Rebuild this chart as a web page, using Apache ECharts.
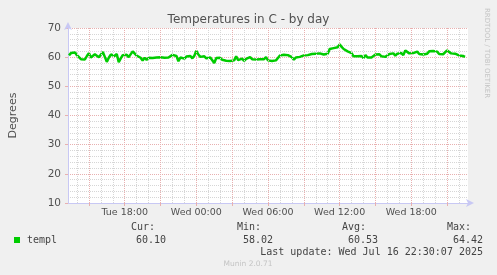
<!DOCTYPE html>
<html>
<head>
<meta charset="utf-8">
<script src="https://cdn.jsdelivr.net/npm/echarts@6/dist/echarts.min.js"></script>
<style>
html,body{margin:0;padding:0;background:#f0f0f0;}
#chart{width:497px;height:275px;}
</style>
</head>
<body>
<div id="chart"></div>
<script>
// ---- data ----
const titleText = 'Temperatures in C - by day';
const yAxisName = 'Degrees';
const seriesName = 'templ';
const startHour = 13 + 20 / 60;      // Tue 13:20 (hours since Tue 00:00)
const stepMinutes = 10;
const temps = [
  60.6, 61.4, 61.0, 61.6, 60.7, 61.0, 59.3,
  59.9, 59.2, 60.4, 61.4, 59.9, 59.5, 61.0,
  61.2, 60.0, 60.4, 61.8, 60.1, 58.4, 59.8,
  60.9, 61.3, 60.4, 61.1, 58.3, 59.6, 60.7,
  60.1, 60.8, 60.0, 60.6, 62.0, 62.6, 60.5,
  60.9, 59.8, 58.8, 59.8, 59.1, 59.8, 59.2,
  59.7, 59.1, 59.9, 59.3, 60.0, 59.6, 59.8,
  59.5, 59.9, 59.6, 60.8, 60.6, 60.4, 58.6,
  59.9, 60.3, 59.5, 60.2, 59.7, 60.4, 59.6,
  60.5, 62.2, 60.9, 60.1, 59.6, 60.3, 59.6,
  59.4, 59.9, 59.3, 58.0, 59.7, 59.2, 59.8,
  59.1, 59.7, 58.8, 59.4, 58.7, 59.3, 58.9,
  60.3, 59.0, 59.1, 59.5, 58.7, 59.4, 58.9,
  60.0, 59.3, 59.9, 59.2, 59.7, 59.3, 59.9,
  59.3, 60.0, 58.9, 59.4, 58.7, 59.3, 58.9,
  59.7, 60.6, 60.3, 60.8, 60.4, 60.7, 60.2,
  60.0, 59.1, 59.9, 59.5, 60.1, 59.6, 60.6,
  60.4, 60.7, 60.5, 61.1, 60.6, 61.2, 60.8,
  61.3, 61.9, 60.9, 61.0, 61.2, 62.8, 62.4,
  63.1, 62.6, 63.4, 64.4, 63.5, 62.8, 63.2,
  62.0, 61.6, 61.4, 60.3, 60.4, 60.3, 60.2,
  60.4, 59.7, 60.7, 59.9, 59.6, 59.9, 59.6,
  60.9, 61.0, 61.0, 60.3, 60.8, 60.1, 60.7,
  61.1, 60.6, 61.3, 60.5, 61.2, 60.8, 61.4,
  60.7, 62.3, 61.9, 61.3, 61.9, 61.4, 61.7,
  61.9, 61.1, 61.6, 60.9, 61.5, 61.2, 62.0,
  61.4, 62.1, 61.5, 61.9, 61.1, 61.5, 61.0,
  61.6, 62.3, 62.0, 61.3, 61.1, 61.2, 60.7,
  60.6, 60.2, 60.4, 60.1
];
const xMin = 13.25, xMax = 46.75;    // hours since Tue 00:00
const yMin = 10, yMax = 70, yStep = 10;
const labelHours = [18, 24, 30, 36, 42];
const tickLabels = ['Tue 18:00', 'Wed 00:00', 'Wed 06:00', 'Wed 12:00', 'Wed 18:00'];
const majorHours = [15, 18, 21, 24, 27, 30, 33, 36, 39, 42, 45];
const minorHours = [14, 16, 17, 19, 20, 22, 23, 25, 26, 28, 29, 31, 32, 34, 35, 37, 38, 40, 41, 43, 44, 46];
const statHeaders = ['Cur:', 'Min:', 'Avg:', 'Max:'];
const statValues = ['60.10', '58.02', '60.53', '64.42'];
const lastUpdate = 'Last update: Wed Jul 16 22:30:07 2025';
const footer = 'Munin 2.0.71';
const sideText = 'RRDTOOL / TOBI OETIKER';

// ---- chart ----
const lineData = temps.map((v, i) => [startHour + i * stepMinutes / 60, v]);
const green = '#00cc00';
const axisBlue = '#c8c8f4';
const minorGrid = '#d6d6d6';
const majorGrid = '#e8b0b0';
const mono = '"DejaVu Sans Mono", monospace';

const statLeft = [131, 237, 342, 447];
const statRight = [166, 273, 378, 483];
const graphics = [
  {type: 'rect', shape: {x: 14, y: 237, width: 6, height: 6}, style: {fill: green}},
  {type: 'text', x: 27, y: 240, style: {text: seriesName, font: '10px ' + mono, fill: '#444', textVerticalAlign: 'middle'}},
  {type: 'text', x: 483, y: 252, style: {text: lastUpdate, font: '10px ' + mono, fill: '#444', textAlign: 'right', textVerticalAlign: 'middle'}},
  {type: 'text', x: 248, y: 264, style: {text: footer, font: '7.5px "DejaVu Sans"', fill: '#c4c4c4', textAlign: 'center', textVerticalAlign: 'middle'}},
  {type: 'text', x: 487, y: 53, rotation: -Math.PI / 2, style: {text: sideText, font: '7px "DejaVu Sans"', fill: '#c4c4c4', textAlign: 'center', textVerticalAlign: 'middle'}}
];
statHeaders.forEach((h, i) => {
  graphics.push({type: 'text', x: statLeft[i], y: 227, style: {text: h, font: '10px ' + mono, fill: '#444', textVerticalAlign: 'middle'}});
  graphics.push({type: 'text', x: statRight[i], y: 240, style: {text: statValues[i], font: '10px ' + mono, fill: '#444', textAlign: 'right', textVerticalAlign: 'middle'}});
});

const vLine = (h, color) => ({xAxis: h, lineStyle: {color: color, type: [1, 1], width: 1}});

const chart = echarts.init(document.getElementById('chart'), null, {renderer: 'canvas'});
chart.setOption({
  backgroundColor: '#f0f0f0',
  animation: false,
  title: {
    text: titleText, left: 'center', top: 9,
    textStyle: {fontFamily: 'DejaVu Sans', fontSize: 12, fontWeight: 'normal', color: '#505050'}
  },
  grid: {left: 66, right: 29, top: 28, bottom: 72, show: true, backgroundColor: '#ffffff', borderWidth: 0},
  xAxis: {
    type: 'value', min: xMin, max: xMax,
    axisLine: {show: true, lineStyle: {color: axisBlue, width: 1}, symbol: ['none', 'arrow'], symbolSize: [6, 8], symbolOffset: [0, 6]},
    axisTick: {show: true, customValues: majorHours, length: 3, inside: false, lineStyle: {color: majorGrid}},
    axisLabel: {
      customValues: labelHours, margin: 5,
      fontFamily: 'DejaVu Sans', fontSize: 9.5, color: '#505050',
      formatter: v => tickLabels[labelHours.indexOf(Math.round(v))] || ''
    },
    splitLine: {show: false}
  },
  yAxis: {
    type: 'value', min: yMin, max: yMax, interval: yStep,
    name: yAxisName, nameLocation: 'middle', nameGap: 49,
    nameTextStyle: {fontFamily: 'DejaVu Sans', fontSize: 11, color: '#505050'},
    axisLine: {show: true, lineStyle: {color: axisBlue, width: 1}, symbol: ['none', 'arrow'], symbolSize: [6, 8], symbolOffset: [0, 6]},
    axisTick: {show: true, length: 3, lineStyle: {color: majorGrid}},
    axisLabel: {fontFamily: 'DejaVu Sans', fontSize: 10.5, color: '#505050', margin: 7},
    splitLine: {show: true, lineStyle: {color: majorGrid, type: [1, 1], width: 1}},
    minorTick: {show: false, splitNumber: 5},
    minorSplitLine: {show: true, lineStyle: {color: minorGrid, type: [1, 1], width: 1}}
  },
  graphic: graphics,
  series: [
    {
      type: 'line', data: [], silent: true, z: 1,
      markLine: {
        silent: true, symbol: 'none', label: {show: false}, animation: false,
        data: minorHours.map(h => vLine(h, minorGrid)).concat(majorHours.map(h => vLine(h, majorGrid)))
      }
    },
    {
      name: seriesName, type: 'line', data: lineData, z: 3,
      showSymbol: false, symbol: 'none',
      lineStyle: {color: green, width: 2.5}, itemStyle: {color: green}
    }
  ]
});
</script>
</body>
</html>
